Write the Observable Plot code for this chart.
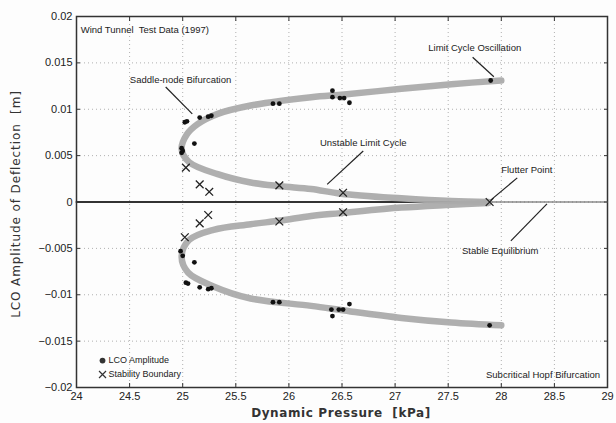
<!DOCTYPE html>
<html>
<head>
<meta charset="utf-8">
<script src="https://cdn.jsdelivr.net/npm/d3@7"></script>
<script src="https://cdn.jsdelivr.net/npm/@observablehq/plot@0.6"></script>
<style>
  html, body { margin: 0; padding: 0; background: #fff; }
  #chart { width: 616px; height: 423px; }
  svg text { font-family: "Liberation Sans", Arial, sans-serif; }
</style>
</head>
<body>
<div id="chart"></div>
<script>
// Axis ticks
const xTicks = [24, 24.5, 25, 25.5, 26, 26.5, 27, 27.5, 28, 28.5, 29];
const yTicks = [-0.02, -0.015, -0.01, -0.005, 0, 0.005, 0.01, 0.015, 0.02];

// Upper branch of the bifurcation band (flutter point -> turning point -> LCO end)
const upperX = [27.88, 27.53, 27.06, 26.49, 26.21, 25.92, 25.64, 25.33, 25.06, 24.99, 25.04, 25.14, 25.33, 25.64, 26.21, 26.52, 27.06, 27.53, 28.0];
const upperY = [0.0000, 0.0001, 0.0004, 0.0009, 0.0014, 0.0017, 0.0021, 0.0030, 0.0043, 0.0057, 0.0073, 0.0084, 0.0095, 0.0104, 0.0113, 0.0116, 0.0122, 0.0127, 0.0131];
// Lower branch
const lowerX = [27.88, 27.53, 27.06, 26.49, 26.21, 25.92, 25.64, 25.29, 25.06, 24.99, 25.05, 25.29, 25.64, 26.21, 26.58, 27.06, 27.53, 28.0];
const lowerY = [-0.0001, -0.0003, -0.0006, -0.0012, -0.0015, -0.0020, -0.0024, -0.0030, -0.0041, -0.0059, -0.0076, -0.0091, -0.0104, -0.0112, -0.0118, -0.0125, -0.0130, -0.0133];

// LCO amplitude measurements (dots)
const lcoX = [25.02, 25.04, 25.16, 25.24, 25.27, 25.11, 24.99, 24.99, 25.00, 25.85, 25.91, 26.41, 26.41, 26.48, 26.52, 26.57, 27.90,
              24.98, 25.00, 25.11, 25.03, 25.05, 25.16, 25.24, 25.27, 25.85, 25.91, 26.40, 26.41, 26.47, 26.51, 26.57, 27.89];
const lcoY = [0.0086, 0.0087, 0.0091, 0.0092, 0.0093, 0.0063, 0.0058, 0.0053, 0.0055, 0.0106, 0.0106, 0.0120, 0.0113, 0.0112, 0.0112, 0.0107, 0.0131,
              -0.0053, -0.0058, -0.0065, -0.0087, -0.0088, -0.0092, -0.0094, -0.0093, -0.0108, -0.0108, -0.0116, -0.0123, -0.0116, -0.0116, -0.0110, -0.0133];

// Stability boundary measurements (crosses)
const stabX = [25.03, 25.16, 25.25, 25.91, 26.51, 27.89, 25.02, 25.16, 25.24, 25.91, 26.51];
const stabY = [0.0037, 0.0019, 0.0011, 0.0018, 0.0010, 0.0000, -0.0038, -0.0023, -0.0014, -0.0021, -0.0011];

// Equilibrium line (stable up to flutter point, then beyond)
const eqStableX = [24, 27.9];
const eqUnstableX = [27.9, 29];

// Annotations: labels and leader lines (data units)
const labelText = ["Wind Tunnel  Test Data (1997)", "Saddle-node Bifurcation", "Limit Cycle Oscillation", "Unstable Limit Cycle", "Flutter Point", "Stable Equilibrium", "Subcritical Hopf Bifurcation"];
const labelX = [24.04, 24.98, 27.75, 26.70, 28.24, 27.99, 28.93];
const labelY = [0.0186, 0.0132, 0.0166, 0.0064, 0.0035, -0.0053, -0.0187];
const labelAnchor = ["start", "middle", "middle", "middle", "middle", "middle", "end"];

const leaderX1 = [24.84, 27.73, 26.70, 28.15, 28.09];
const leaderY1 = [0.0124, 0.0156, 0.0055, 0.0026, -0.0042];
const leaderX2 = [25.09, 27.93, 26.36, 27.90, 28.43];
const leaderY2 = [0.0095, 0.0135, 0.0019, 0.0002, -0.0002];

// Legend
const legendText = ["LCO Amplitude", "Stability Boundary"];
const legendSymbol = ["circle", "times"];
const legendX = 24.245;
const legendY = [-0.0171, -0.0186];

const upper = upperX.map((x, i) => ({x, y: upperY[i]}));
const lower = lowerX.map((x, i) => ({x, y: lowerY[i]}));
const lco = lcoX.map((x, i) => ({x, y: lcoY[i]}));
const stab = stabX.map((x, i) => ({x, y: stabY[i]}));
const labels = labelText.map((t, i) => ({t, x: labelX[i], y: labelY[i], a: labelAnchor[i]}));
const leaders = leaderX1.map((x1, i) => ({x1, y1: leaderY1[i], x2: leaderX2[i], y2: leaderY2[i]}));
const legend = legendText.map((t, i) => ({t, s: legendSymbol[i], y: legendY[i]}));

const fmtY = d => d === 0 ? "0" : (d < 0 ? "\u2212" + String(-d) : String(d));
const fmtX = d => String(d);
const blank = () => "";

const chart = Plot.plot({
  width: 616,
  height: 423,
  marginLeft: 76,
  marginRight: 9,
  marginTop: 16,
  marginBottom: 36,
  style: {background: "#fdfdfd", fontSize: "11px", fontFamily: "Liberation Sans, Arial, sans-serif", color: "#222"},
  x: {domain: [24, 29]},
  y: {domain: [-0.02, 0.02]},
  marks: [
    // dotted grid
    Plot.ruleX(xTicks, {stroke: "#b0b0b0", strokeDasharray: "1,3", strokeWidth: 1}),
    Plot.ruleY(yTicks, {stroke: "#b0b0b0", strokeDasharray: "1,3", strokeWidth: 1}),
    // axes with inward ticks (MATLAB style)
    Plot.axisX({anchor: "bottom", ticks: xTicks, tickFormat: fmtX, tickSize: -4, tickPadding: 9, stroke: "#333", fontSize: 11, label: null}),
    Plot.axisX({anchor: "top", ticks: xTicks, tickFormat: blank, tickSize: -4, stroke: "#333", label: null}),
    Plot.axisY({anchor: "left", ticks: yTicks, tickFormat: fmtY, tickSize: -4, tickPadding: 8, stroke: "#333", fontSize: 11, label: null}),
    Plot.axisY({anchor: "right", ticks: yTicks, tickFormat: blank, tickSize: -4, stroke: "#333", label: null}),
    Plot.frame({stroke: "#333", strokeWidth: 1.5}),
    // equilibrium line
    Plot.lineY(eqStableX.map(x => ({x, y: 0})), {x: "x", y: "y", stroke: "#333", strokeWidth: 2}),
    Plot.lineY(eqUnstableX.map(x => ({x, y: 0})), {x: "x", y: "y", stroke: "#555", strokeWidth: 1.2}),
    // gray bifurcation bands
    Plot.line(upper, {x: "x", y: "y", curve: "catmull-rom", stroke: "#ababab", strokeWidth: 6.5, strokeOpacity: 0.95}),
    Plot.line(lower, {x: "x", y: "y", curve: "catmull-rom", stroke: "#ababab", strokeWidth: 6.5, strokeOpacity: 0.95}),
    // data
    Plot.dot(lco, {x: "x", y: "y", r: 2.4, fill: "#111", stroke: "none"}),
    Plot.dot(stab, {x: "x", y: "y", symbol: "times", r: 3.6, stroke: "#222", strokeWidth: 1.3}),
    // annotations
    Plot.link(leaders, {x1: "x1", y1: "y1", x2: "x2", y2: "y2", stroke: "#222", strokeWidth: 1.2}),
    Plot.text(labels, {x: "x", y: "y", text: "t", textAnchor: "start", filter: d => d.a === "start", fontSize: 9.5, fill: "#222"}),
    Plot.text(labels, {x: "x", y: "y", text: "t", textAnchor: "middle", filter: d => d.a === "middle", fontSize: 9.5, fill: "#222"}),
    Plot.text(labels, {x: "x", y: "y", text: "t", textAnchor: "end", filter: d => d.a === "end", fontSize: 9.5, fill: "#222"}),
    // legend
    Plot.dot(legend, {x: () => legendX, y: "y", symbol: "s", r: d => d.s === "circle" ? 2.2 : 2.8, fill: d => d.s === "circle" ? "#333" : "none", stroke: d => d.s === "circle" ? "none" : "#333", strokeWidth: 1.2}),
    Plot.text(legend, {x: () => legendX, y: "y", text: "t", dx: 6, textAnchor: "start", fontSize: 9, fill: "#222"})
  ]
});

// axis titles
const svg = d3.select(chart);
svg.append("text")
  .attr("x", 341).attr("y", 417)
  .attr("text-anchor", "middle")
  .attr("font-size", 12).attr("font-weight", "bold").attr("letter-spacing", "0.6px")
  .attr("fill", "#333")
  .style("font-family", "DejaVu Sans, sans-serif")
  .text("Dynamic Pressure  [kPa]");
svg.append("text")
  .attr("transform", "translate(20,204) rotate(-90)")
  .attr("text-anchor", "middle")
  .attr("font-size", 12).attr("letter-spacing", "0.9px")
  .attr("fill", "#333")
  .style("font-family", "DejaVu Sans, sans-serif")
  .text("LCO Amplitude of Deflection  [m]");

document.getElementById("chart").appendChild(chart);
</script>
</body>
</html>
